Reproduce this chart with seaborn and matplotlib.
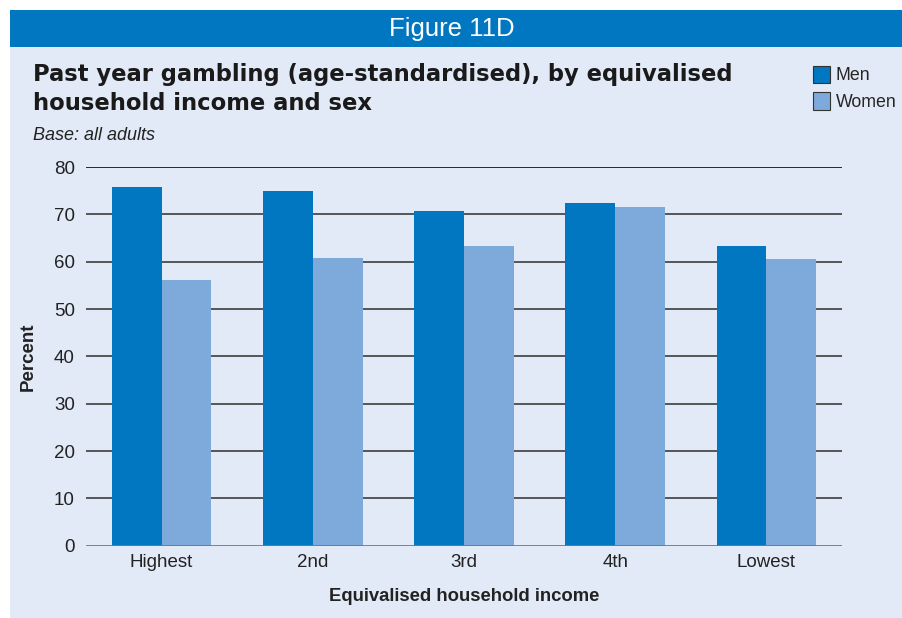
import matplotlib.pyplot as plt
import matplotlib.patches as mpatches
import seaborn as sns
import pandas as pd

categories = ["Highest", "2nd", "3rd", "4th", "Lowest"]
men = [75.7, 74.9, 70.6, 72.5, 63.4]
women = [56.2, 60.7, 63.4, 71.5, 60.5]
yticks = [0, 10, 20, 30, 40, 50, 60, 70, 80]

df = pd.DataFrame({
    "income": categories * 2,
    "sex": ["Men"] * len(men) + ["Women"] * len(women),
    "pct": men + women,
})

sns.set_theme(style="white")
plt.rcParams["font.family"] = ["Liberation Sans", "DejaVu Sans"]

panel = "#E2EAF7"
fig = plt.figure(figsize=(9.03, 6.18), dpi=100)
fig.patch.set_facecolor("white")

# light blue panel and the blue header band
fig.patches.append(mpatches.Rectangle((10 / 903, 0), 1, 1 - 10 / 618, transform=fig.transFigure,
                                      facecolor=panel, edgecolor="none", zorder=-2))
fig.patches.append(mpatches.Rectangle((10 / 903, 1 - 47 / 618), 1, 37 / 618, transform=fig.transFigure,
                                      facecolor="#0077C0", edgecolor="none", zorder=-1))
fig.text(0.5, 1 - 29 / 618, "Figure 11D", color="white", fontsize=18.5, ha="center", va="center")

ax = fig.add_axes([86 / 903, 1 - 545.7 / 618, (842 - 86) / 903, (545.7 - 167) / 618])
ax.set_facecolor(panel)

sns.barplot(data=df, x="income", y="pct", hue="sex", order=categories,
            palette={"Men": "#0077C0", "Women": "#7DAADB"}, width=0.66,
            saturation=1, linewidth=0, ax=ax, legend=False, zorder=3)

ax.set_ylim(0, 80)
ax.set_xlim(-0.5, 4.5)
ax.set_yticks(yticks)
for y in yticks[1:]:
    ax.axhline(y, color="#1a1a1a" if y == 80 else "#4a4a4a", lw=1.3, zorder=1)
ax.axhline(0, color="#777777", lw=2, zorder=4)
for s in ax.spines.values():
    s.set_visible(False)
ax.tick_params(axis="both", length=0, labelsize=13.5, colors="#222222")
ax.tick_params(axis="y", pad=8)
ax.tick_params(axis="x", pad=6)
ax.set_xlabel("Equivalised household income", fontsize=13.3, fontweight="bold", labelpad=12, color="#222222")
ax.set_ylabel("Percent", fontsize=13.5, fontweight="bold", labelpad=12, color="#222222")

title_font = ["DejaVu Sans"]
fig.text(33 / 903, 1 - 75 / 618, "Past year gambling (age-standardised), by equivalised",
         fontsize=16.3, fontweight="bold", va="center", color="#1a1a1a", family=title_font)
fig.text(33 / 903, 1 - 103 / 618, "household income and sex",
         fontsize=16.3, fontweight="bold", va="center", color="#1a1a1a", family=title_font)
fig.text(33 / 903, 1 - 135 / 618, "Base: all adults", fontsize=13, style="italic",
         va="center", color="#222222")

handles = [mpatches.Patch(facecolor="#0077C0", edgecolor="#333333", lw=0.8, label="Men"),
           mpatches.Patch(facecolor="#7DAADB", edgecolor="#333333", lw=0.8, label="Women")]
fig.legend(handles=handles, loc="upper left", bbox_to_anchor=(804 / 903, 1 - 57 / 618),
           frameon=False, fontsize=12.8, handlelength=0.95, handleheight=1.1,
           handletextpad=0.35, labelspacing=0.45, borderpad=0)

fig.savefig("out.png", dpi=100, facecolor=fig.get_facecolor())
